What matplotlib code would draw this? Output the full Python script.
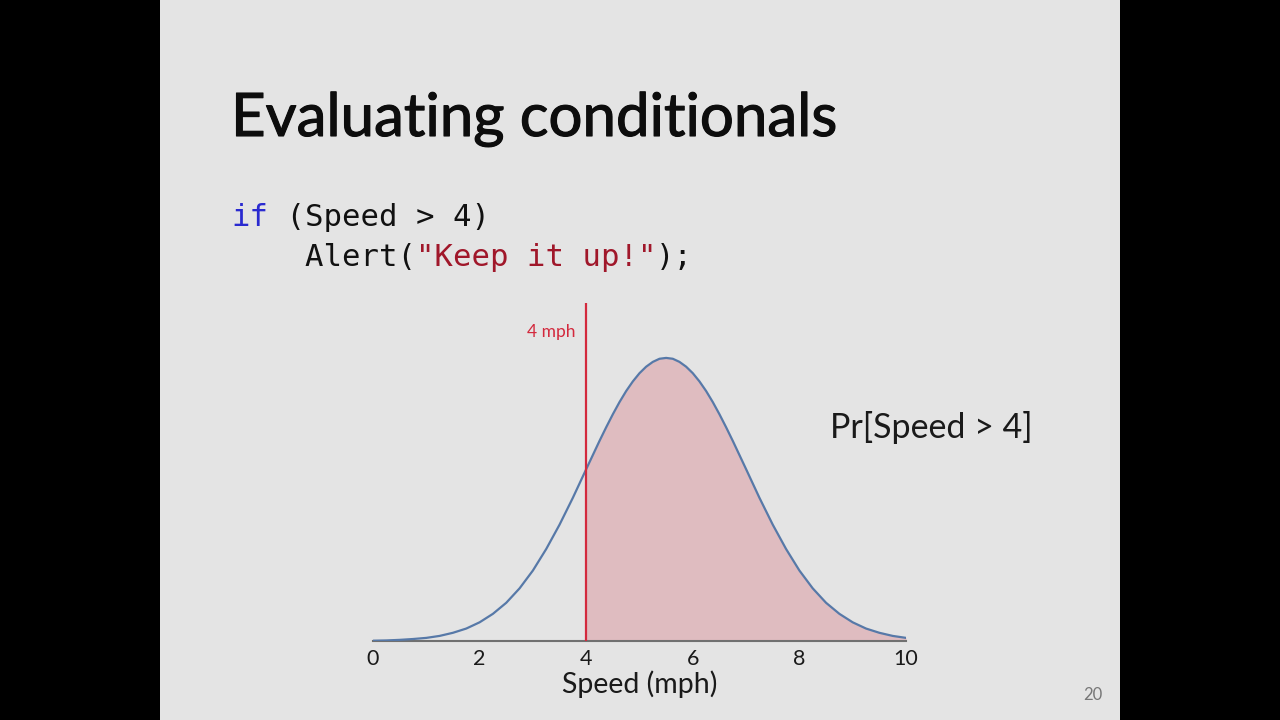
import matplotlib
matplotlib.use('Agg')
import matplotlib.pyplot as plt
import matplotlib.patheffects as pe
from matplotlib.patches import Rectangle

####################################################################################################

# speed (mph) and relative density (denser near the peak)
speed = [0.0, 0.25, 0.5, 0.75, 1.0, 1.25, 1.5, 1.75, 2.0, 2.25, 2.5, 2.75, 3.0, 3.25, 3.5, 3.75,
         4.0, 4.25, 4.375, 4.5, 4.625, 4.75, 4.875, 5.0, 5.125, 5.25, 5.375, 5.5, 5.625, 5.75,
         5.875, 6.0, 6.125, 6.25, 6.375, 6.5, 6.625, 6.75, 7.0, 7.25, 7.5, 7.75,
         8.0, 8.25, 8.5, 8.75, 9.0, 9.25, 9.5, 9.75, 10.0]
density = [0.001, 0.002, 0.004, 0.007, 0.011, 0.018, 0.029, 0.044, 0.066, 0.096, 0.135, 0.186,
           0.249, 0.325, 0.411, 0.506, 0.607, 0.707, 0.755, 0.801, 0.844, 0.883, 0.917, 0.946,
           0.969, 0.986, 0.997, 1.000, 0.997, 0.986, 0.969, 0.946, 0.917, 0.883, 0.844, 0.801,
           0.755, 0.707, 0.607, 0.506, 0.411, 0.325, 0.249, 0.186, 0.135, 0.096,
           0.066, 0.044, 0.029, 0.018, 0.011]
threshold = 4
x_ticks = [0, 2, 4, 6, 8, 10]

title = 'Evaluating conditionals'
x_label = 'Speed (mph)'
prob_label = 'Pr[Speed > 4]'
threshold_label = '4 mph'
page_number = '20'

# code lines as (text, colour) segments
code_lines = [
    [('if', '#2a2ad0'), (' (Speed > 4)', '#111111')],
    [('    Alert(', '#111111'), ('"Keep it up!"', '#a0172a'), (');', '#111111')],
]

####################################################################################################

W, H = 1280, 720
BG = '#e4e4e4'
BLUE = '#5779a8'
RED = '#d3293d'
PINK = '#dfbcc0'

def fx(px):
    return px / W

def fy(py):
    return 1 - py / H

fig = plt.figure(figsize=(W / 100, H / 100), dpi=100, facecolor='black')
fig.patches.append(Rectangle((fx(160), 0), fx(960), 1, transform=fig.transFigure,
                             facecolor=BG, edgecolor='none', zorder=-5))

# regular weight thickened a little, to sit between Lato regular and bold
fig.text(fx(231), fy(136), title, fontsize=43.2, fontweight='normal', family='Lato',
         color='#0d0d0d', va='baseline', ha='left',
         path_effects=[pe.withStroke(linewidth=0.8, foreground='#0d0d0d')])

# monospace code, coloured segment by segment
code_size = 22.1
char_w = code_size * 0.602 * 100 / 72
for line, base in zip(code_lines, [226, 266]):
    col = 0
    for text, color in line:
        fig.text(fx(231 + col * char_w), fy(base), text, fontsize=code_size,
                 family='DejaVu Sans Mono', color=color, va='baseline', ha='left')
        col += len(text)

fig.text(fx(830), fy(438), prob_label, fontsize=24.5, fontweight='normal', family='Lato',
         color='#1a1a1a', va='baseline', ha='left')
fig.text(fx(1102), fy(700), page_number, fontsize=12, family='Lato', color='#777777',
         va='baseline', ha='right')

####################################################################################################

ax = fig.add_axes([fx(373), fy(641), fx(906 - 373), (641 - 303) / H])
ax.set_facecolor('none')
ax.set_xlim(0, 10)
ax.set_ylim(0, 1.194)

above = [s >= threshold for s in speed]
ax.fill_between(speed, density, where=above, color=PINK, linewidth=0, zorder=1)
ax.plot(speed, density, color=BLUE, linewidth=1.6, zorder=3, solid_joinstyle='round')
ax.axvline(threshold, color=RED, linewidth=1.6, zorder=4)
ax.annotate(threshold_label, xy=(threshold, 1), xycoords=('data', 'axes fraction'),
            xytext=(-8, -21), textcoords='offset points', ha='right', va='center',
            fontsize=12.5, family='Lato', color=RED)

for side in ['top', 'left', 'right']:
    ax.spines[side].set_visible(False)
ax.spines['bottom'].set_color('#707070')
ax.spines['bottom'].set_linewidth(1.5)
ax.spines['bottom'].set_zorder(2)
ax.set_yticks([])
ax.set_xticks(x_ticks)
ax.tick_params(axis='x', length=0, pad=6, labelsize=15.5, labelcolor='#1a1a1a')
for lbl in ax.get_xticklabels():
    lbl.set_family('Lato')
ax.set_xlabel(x_label, fontsize=20.5, family='Lato', color='#1a1a1a', labelpad=0.5)

fig.savefig('out.png', dpi=100, facecolor=fig.get_facecolor())
